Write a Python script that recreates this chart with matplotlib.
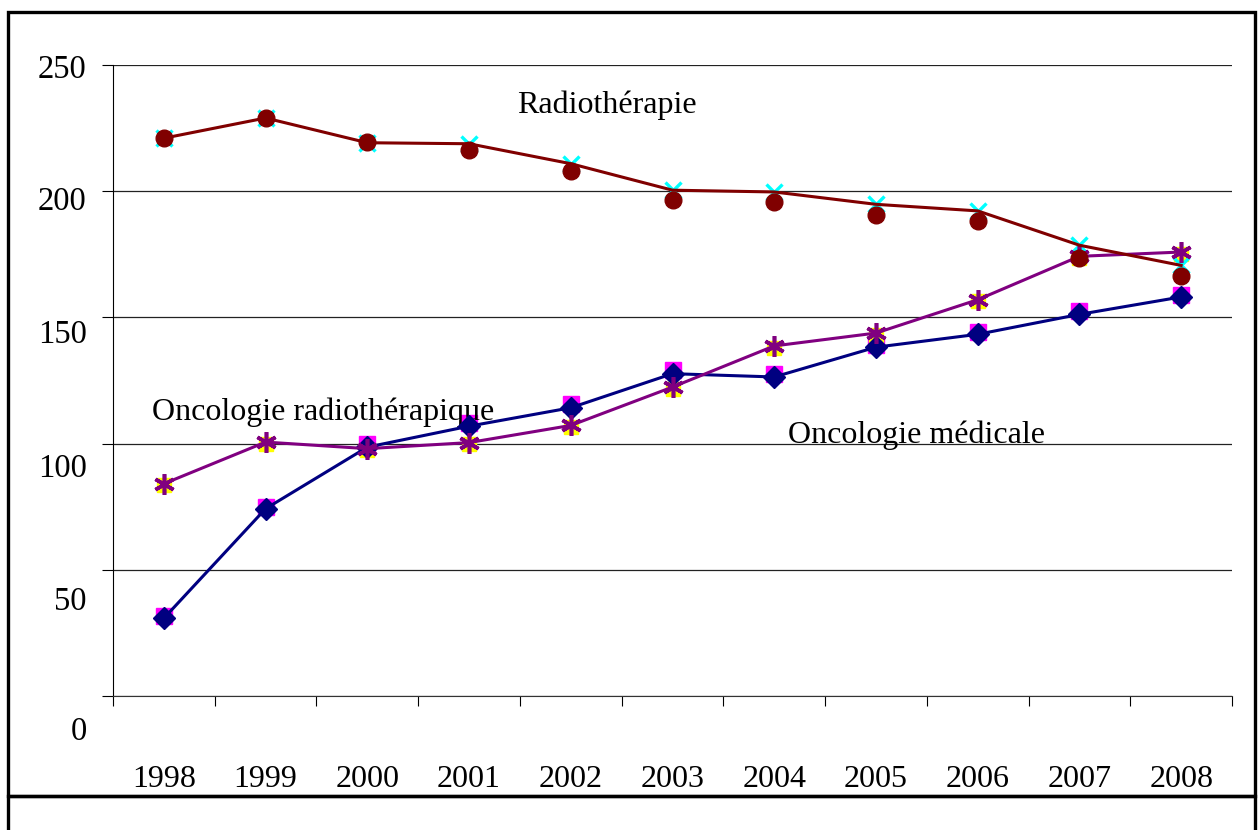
import numpy as np
import matplotlib
matplotlib.use("Agg")
import matplotlib.pyplot as plt
from matplotlib.patches import Rectangle
from matplotlib.transforms import ScaledTranslation

plt.rcParams['font.family'] = ['Liberation Serif', 'DejaVu Serif']

years = ['1998', '1999', '2000', '2001', '2002', '2003', '2004', '2005', '2006', '2007', '2008']

# Oncologie medicale (two series: diamonds with line, squares behind)
onco_med = [30.8, 74.2, 98.6, 106.9, 114.2, 127.7, 126.4, 138.2, 143.3, 151.2, 158.1]
onco_med_b = [31.5, 75.0, 99.8, 108.0, 115.8, 129.0, 127.6, 139.2, 144.4, 152.6, 158.8]

# Oncologie radiotherapique (asterisks with line, triangles behind)
onco_rad = [84.1, 100.6, 98.0, 100.4, 107.2, 122.4, 138.7, 143.8, 157.0, 174.2, 175.9]
onco_rad_b = [83.5, 100.0, 97.5, 99.8, 106.6, 121.7, 137.9, 143.1, 156.4, 173.6, 175.3]

# Radiotherapie (x markers with line, circles without)
radio = [221.0, 229.0, 219.2, 218.8, 210.9, 200.4, 199.7, 194.8, 192.2, 178.6, 170.6]
radio_b = [221.0, 229.0, 219.3, 216.2, 208.0, 196.7, 195.7, 190.4, 188.2, 173.7, 166.3]

y_ticks = [0, 50, 100, 150, 200, 250]
y_label_drop = [32, 28, 22, 14, 7, 1]  # label offsets in px, as in the original

x = np.arange(len(years))

fig = plt.figure(figsize=(12.58, 8.30), dpi=100)
ax = fig.add_axes([113 / 1258, 1 - 696 / 830, 1119 / 1258, 631 / 830])

# background markers
ax.plot(x, onco_med_b, ls='none', marker='s', ms=11, color='#FF00FF', zorder=3)
ax.plot(x, onco_rad_b, ls='none', marker='s', ms=10, color='#FFFF00', zorder=3)
ax.plot(x, radio, ls='none', marker='x', ms=12, mew=2.4, color='#00FFFF', zorder=3)

# lines
ax.plot(x, onco_med, color='#000080', lw=2.2, marker='D', ms=11, zorder=4)
ax.plot(x, onco_rad, color='#800080', lw=2.2, marker=(6, 2, 0), ms=15, mew=2.6, zorder=4)
ax.plot(x, radio, color='#800000', lw=2.2, zorder=4)
ax.plot(x, radio_b, ls='none', marker='o', ms=12, color='#800000', zorder=5)

ax.set_xlim(-0.5, len(years) - 0.5)
ax.set_ylim(0, 250)

ax.set_yticks(y_ticks)
ax.set_yticklabels([str(v) for v in y_ticks])
ax.tick_params(axis='y', direction='out', length=8, width=0.8, pad=11, labelsize=23.5)
for lab, drop in zip(ax.get_yticklabels(), y_label_drop):
    lab.set_transform(lab.get_transform() + ScaledTranslation(0, -drop / 100, fig.dpi_scale_trans))

ax.set_xticks(x)
ax.set_xticklabels(years)
ax.set_xticks(np.arange(-0.5, len(years)), minor=True)
ax.tick_params(axis='x', which='major', length=0, pad=50, labelsize=23)
ax.tick_params(axis='x', which='minor', direction='out', length=7, width=0.8)

ax.grid(axis='y', color='#222222', lw=0.9)
ax.set_axisbelow(True)
for s in ['top', 'right']:
    ax.spines[s].set_visible(False)
ax.spines['left'].set_linewidth(0.8)
ax.spines['bottom'].set_linewidth(0.8)
ax.spines['bottom'].set_color('#333333')

ax.text(3.47, 234, 'Radiothérapie', fontsize=23, va='center', ha='left')
ax.text(-0.12, 112.4, 'Oncologie radiothérapique', fontsize=23, va='center', ha='left')
ax.text(6.14, 103.5, 'Oncologie médicale', fontsize=23, va='center', ha='left')

# chart frame and the box below it
fig.patches.append(Rectangle((8 / 1258, 1 - 796 / 830), 1247 / 1258, 784 / 830,
                             transform=fig.transFigure, fill=False, lw=2.4, ec='black'))
fig.patches.append(Rectangle((8 / 1258, -0.05), 1247 / 1258, 0.05 + 34 / 830,
                             transform=fig.transFigure, fill=False, lw=2.4, ec='black'))

fig.savefig('out.png', dpi=100)
